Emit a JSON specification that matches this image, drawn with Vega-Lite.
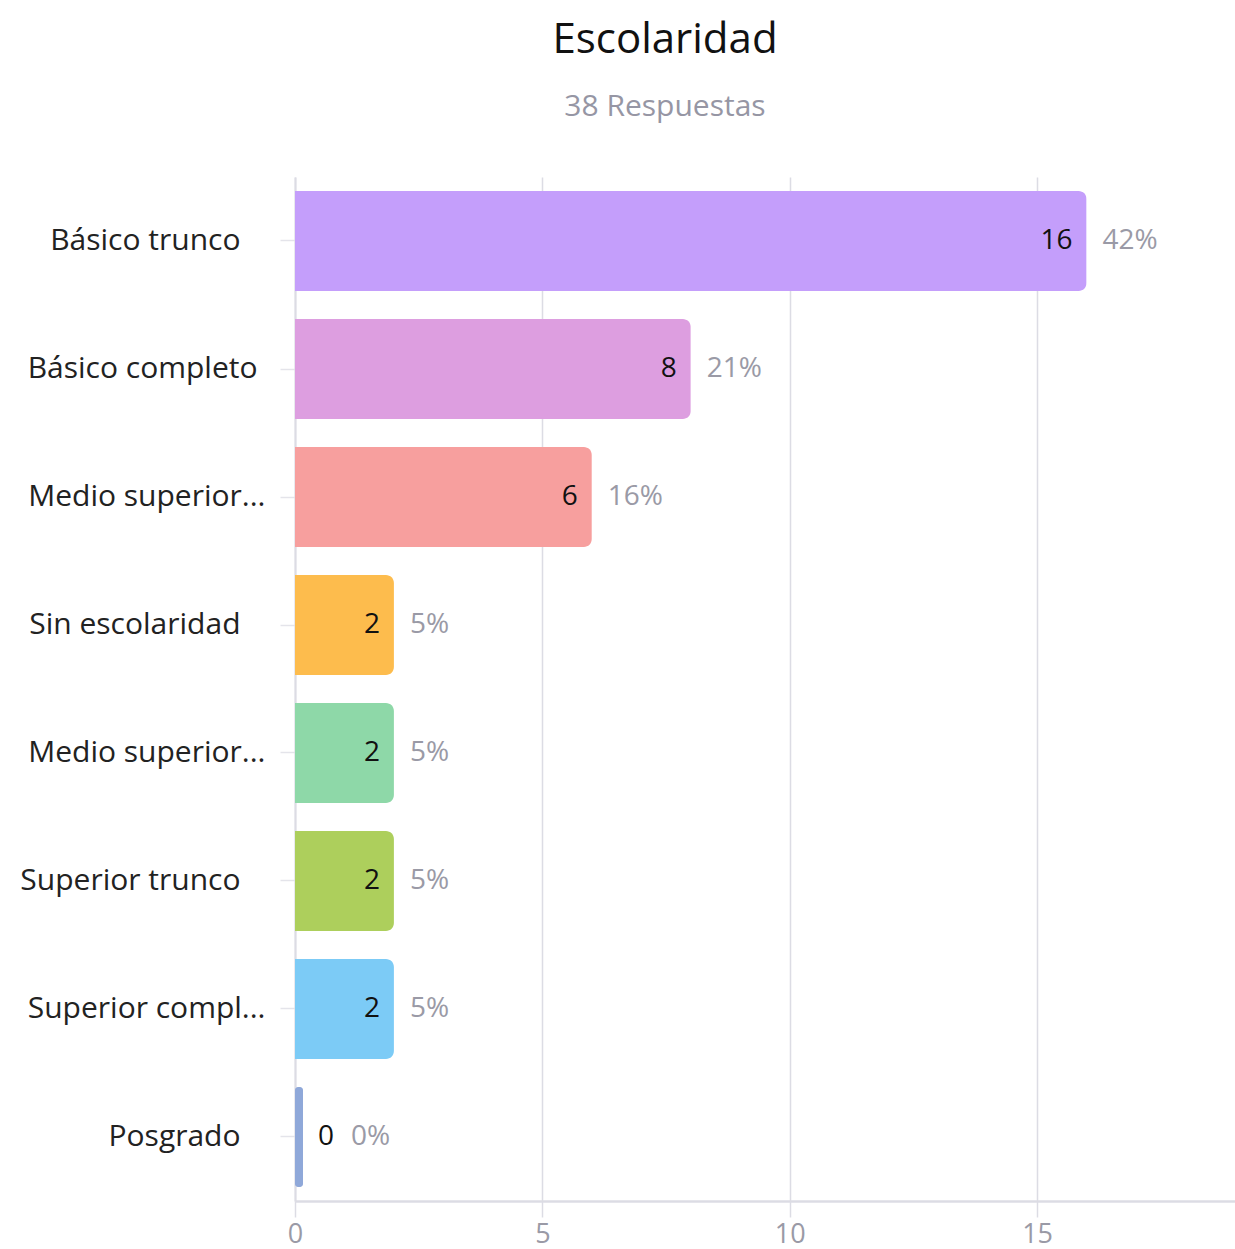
{
  "$schema": "https://vega.github.io/schema/vega-lite/v6.json",
  "width": 940,
  "height": 1024,
  "autosize": {"type": "none"},
  "padding": {"left": 295, "top": 177, "right": 0, "bottom": 48},
  "background": "white",
  "config": {"view": {"stroke": null}, "font": "Open Sans"},
  "title": {
    "text": "Escolaridad",
    "subtitle": "38 Respuestas",
    "anchor": "middle",
    "dx": -100,
    "offset": 54,
    "font": "Open Sans",
    "fontSize": 42,
    "fontWeight": "normal",
    "color": "#111111",
    "subtitleFont": "Open Sans",
    "subtitleFontSize": 30,
    "subtitleFontWeight": 500,
    "subtitleColor": "#9696a4",
    "subtitlePadding": 30
  },
  "data": {
    "values": [
      {"nivel": "Básico trunco", "n": 16, "pct": "42%"},
      {"nivel": "Básico completo", "n": 8, "pct": "21%"},
      {"nivel": "Medio superior completo", "n": 6, "pct": "16%"},
      {"nivel": "Sin escolaridad", "n": 2, "pct": "5%"},
      {"nivel": "Medio superior trunco", "n": 2, "pct": "5%"},
      {"nivel": "Superior trunco", "n": 2, "pct": "5%"},
      {"nivel": "Superior completo", "n": 2, "pct": "5%"},
      {"nivel": "Posgrado", "n": 0, "pct": "0%"}
    ]
  },
  "encoding": {
    "y": {
      "field": "nivel",
      "type": "nominal",
      "sort": null,
      "scale": {"paddingInner": 0.22, "paddingOuter": 0.11},
      "axis": {
        "title": null,
        "domainColor": "#dcdce4",
        "domainWidth": 2,
        "tickSize": 15,
        "tickColor": "#e4e4ea",
        "tickWidth": 1.5,
        "labelFont": "Open Sans",
        "labelFontSize": 30,
        "labelFontWeight": 500,
        "labelColor": "#222222",
        "labelPadding": {"expr": "datum.value == 'Básico completo' ? 23 : (length(datum.value) > 15 ? 15 : 40)"},
        "labelLimit": 400,
        "labelExpr": "length(datum.value) > 15 ? slice(datum.value, 0, 14) + '...' : datum.value"
      }
    },
    "x": {
      "field": "n",
      "type": "quantitative",
      "scale": {"domain": [0, 19], "nice": false},
      "axis": {
        "title": null,
        "values": [0, 5, 10, 15],
        "grid": true,
        "gridColor": "#dcdce4",
        "gridWidth": 1.5,
        "tickSize": 16,
        "tickColor": "#dcdce4",
        "tickWidth": 1.5,
        "domainColor": "#dcdce4",
        "domainWidth": 2.5,
        "labelFont": "Open Sans",
        "labelFontSize": 27,
        "labelColor": "#9a9aa6",
        "labelPadding": 4,
        "labelFlush": false
      }
    }
  },
  "layer": [
    {
      "mark": {"type": "bar", "cornerRadiusEnd": 8},
      "encoding": {
        "color": {
          "field": "nivel",
          "type": "nominal",
          "legend": null,
          "scale": {
            "domain": ["Básico trunco", "Básico completo", "Medio superior completo", "Sin escolaridad", "Medio superior trunco", "Superior trunco", "Superior completo", "Posgrado"],
            "range": ["#C49EFB", "#DD9EE0", "#F79F9E", "#FDBC4D", "#8ED8A8", "#ADCF5C", "#7CCBF6", "#8FA8D9"]
          }
        }
      }
    },
    {
      "transform": [{"filter": "datum.n == 0"}],
      "mark": {"type": "tick", "orient": "vertical", "thickness": 8, "size": 100, "xOffset": 4, "opacity": 1, "cornerRadius": 3},
      "encoding": {
        "color": {"field": "nivel", "type": "nominal", "legend": null}
      }
    },
    {
      "transform": [{"filter": "datum.n > 0"}],
      "mark": {"type": "text", "align": "right", "baseline": "middle", "dx": -14, "fontSize": 28, "fontWeight": 500, "color": "#111111", "font": "Open Sans"},
      "encoding": {"text": {"field": "n", "type": "quantitative"}}
    },
    {
      "transform": [{"filter": "datum.n > 0"}],
      "mark": {"type": "text", "align": "left", "baseline": "middle", "dx": 16, "fontSize": 28, "color": "#9a9aa6", "font": "Open Sans"},
      "encoding": {"text": {"field": "pct", "type": "nominal"}}
    },
    {
      "transform": [{"filter": "datum.n == 0"}],
      "mark": {"type": "text", "align": "left", "baseline": "middle", "dx": 23, "fontSize": 28, "fontWeight": 500, "color": "#111111", "font": "Open Sans"},
      "encoding": {"text": {"field": "n", "type": "quantitative"}}
    },
    {
      "transform": [{"filter": "datum.n == 0"}],
      "mark": {"type": "text", "align": "left", "baseline": "middle", "dx": 56, "fontSize": 28, "color": "#9a9aa6", "font": "Open Sans"},
      "encoding": {"text": {"field": "pct", "type": "nominal"}}
    }
  ]
}
